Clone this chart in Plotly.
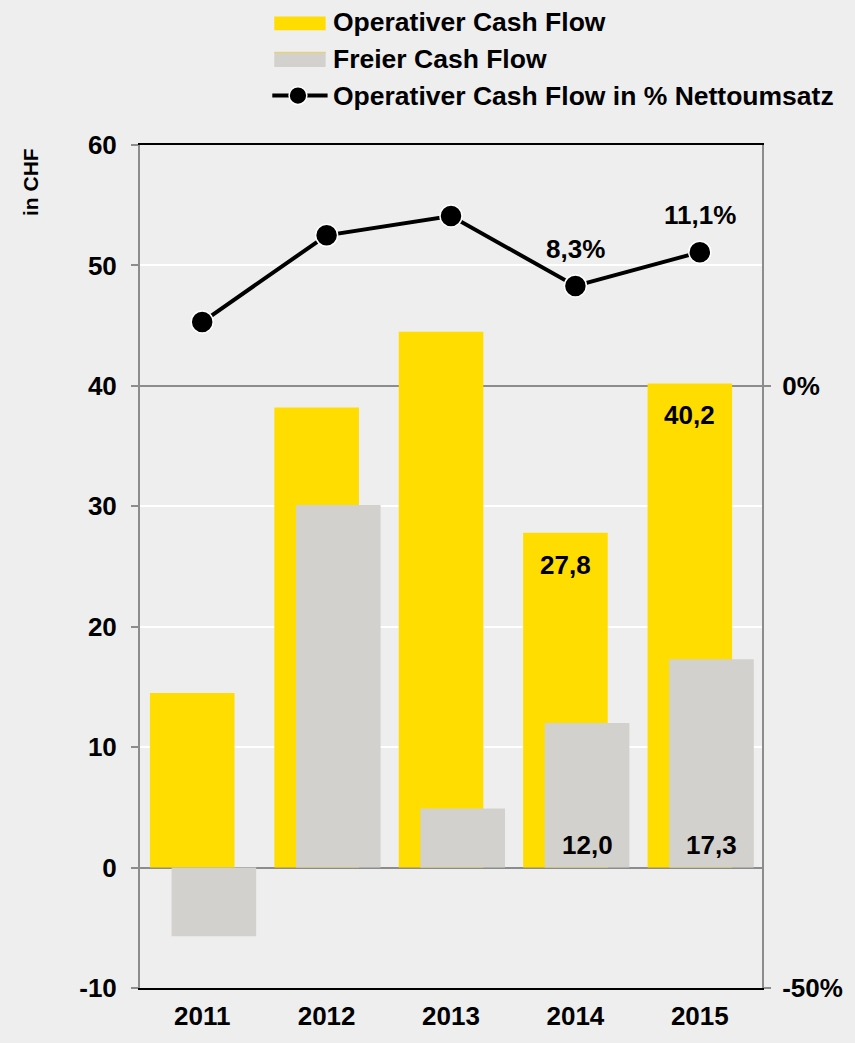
import plotly.graph_objects as go

# data
years = [2011, 2012, 2013, 2014, 2015]
operativer_cf = [14.5, 38.2, 44.5, 27.8, 40.2]      # CHF
freier_cf = [-5.7, 30.1, 4.9, 12.0, 17.3]           # CHF
ocf_pct_umsatz = [5.3, 12.5, 14.1, 8.3, 11.1]       # % Nettoumsatz
labelled_years = [2014, 2015]
series_names = ["Operativer Cash Flow", "Freier Cash Flow",
                "Operativer Cash Flow in % Nettoumsatz"]
y_ticks = [-10, 0, 10, 20, 30, 40, 50, 60]
y2_ticks = [-50, 0]

YELLOW = "#FFDD00"
GREY_BAR = "#D3D1CD"
BG = "#EEEEEE"
AXIS_GREY = "#8C8C8C"
FONT = "Arial, Liberation Sans, sans-serif"

BAR_W = 0.68
OFF_OCF = -0.42
OFF_FCF = -0.246

# page size and plot area in page pixels
W, H = 855, 1043
L, R, T, B = 140, 770, 145, 998


def px_x(p):
    return (p - L) / (R - L)


def px_y(p):
    return (B - p) / (B - T)


def de(v, pct=False):
    s = f"{v:.1f}".replace(".", ",")
    return s + "%" if pct else s


fig = go.Figure()

fig.add_trace(go.Bar(
    x=years, y=operativer_cf, width=BAR_W, offset=OFF_OCF,
    marker=dict(color=YELLOW, line=dict(width=0)),
    name=series_names[0], showlegend=False
))
fig.add_trace(go.Bar(
    x=years, y=freier_cf, width=BAR_W, offset=OFF_FCF,
    marker=dict(color=GREY_BAR, line=dict(width=0)),
    name=series_names[1], showlegend=False
))
fig.add_trace(go.Scatter(
    x=years, y=ocf_pct_umsatz, yaxis="y2", mode="lines+markers",
    line=dict(color="black", width=4),
    marker=dict(color="black", size=22, line=dict(color="white", width=1.5)),
    name=series_names[2], showlegend=False
))

label_font = dict(family=FONT, size=26, color="black", weight="bold")
annotations = []
for yr, ocf, fcf, pct in zip(years, operativer_cf, freier_cf, ocf_pct_umsatz):
    if yr not in labelled_years:
        continue
    annotations.append(dict(x=yr + OFF_OCF + BAR_W / 2, y=ocf, xref="x", yref="y",
                            text=de(ocf), showarrow=False, yanchor="top", yshift=-15,
                            font=label_font))
    annotations.append(dict(x=yr + OFF_FCF + BAR_W / 2, y=0, xref="x", yref="y",
                            text=de(fcf), showarrow=False, yanchor="bottom", yshift=6,
                            font=label_font))
    annotations.append(dict(x=yr, y=pct, xref="x", yref="y2",
                            text=de(pct, True), showarrow=False, yanchor="middle", yshift=37,
                            font=label_font))

# y axis title
annotations.append(dict(x=px_x(29), y=px_y(182), xref="paper", yref="paper",
                        text="in CHF", textangle=-90, showarrow=False,
                        xanchor="center", yanchor="middle",
                        font=dict(family=FONT, size=21, color="black", weight="bold")))

# legend (drawn by hand to get the wide swatches)
legend_font = dict(family=FONT, size=26.5, color="black", weight="bold")
shapes = [
    dict(type="rect", xref="paper", yref="paper", x0=px_x(276), x1=px_x(328),
         y0=px_y(29), y1=px_y(15), fillcolor=YELLOW, line=dict(width=0)),
    dict(type="rect", xref="paper", yref="paper", x0=px_x(276), x1=px_x(328),
         y0=px_y(66), y1=px_y(51), fillcolor=GREY_BAR, line=dict(width=0)),
    dict(type="line", xref="paper", yref="paper", x0=px_x(276), x1=px_x(328),
         y0=px_y(51.5), y1=px_y(51.5), line=dict(color="#E6D27A", width=1.5)),
    dict(type="line", xref="paper", yref="paper", x0=px_x(274), x1=px_x(330),
         y0=px_y(95), y1=px_y(95), line=dict(color="black", width=4)),
    dict(type="circle", xref="paper", yref="paper", x0=px_x(291), x1=px_x(309),
         y0=px_y(104), y1=px_y(86), fillcolor="black", line=dict(color="white", width=1.5)),
]
for name, cy in zip(series_names, [21, 58, 95]):
    annotations.append(dict(x=px_x(333), y=px_y(cy), xref="paper", yref="paper",
                            text=name, showarrow=False, xanchor="left", yanchor="middle",
                            font=legend_font))

tick_font = dict(family=FONT, size=26, color="black", weight="bold")

fig.update_layout(
    width=W, height=H,
    margin=dict(l=L, r=W - R, t=T, b=H - B),
    paper_bgcolor=BG, plot_bgcolor=BG,
    barmode="overlay",
    showlegend=False,
    font=dict(family=FONT, color="black"),
    annotations=annotations,
    shapes=shapes,
    xaxis=dict(
        range=[2010.5, 2015.5], tickvals=years, ticktext=[str(y) for y in years],
        tickfont=tick_font, showgrid=False, zeroline=False,
        showline=True, linecolor="black", linewidth=2, mirror=True, ticks="",
        ticklabelstandoff=4,
    ),
    yaxis=dict(
        range=[-10, 60], tickvals=y_ticks, ticktext=[str(v) for v in y_ticks],
        tickfont=tick_font,
        showgrid=True, gridcolor="white", gridwidth=2,
        zeroline=True, zerolinecolor=AXIS_GREY, zerolinewidth=2,
        showline=True, linecolor=AXIS_GREY, linewidth=2,
        ticks="outside", ticklen=7, tickcolor=AXIS_GREY, tickwidth=2,
        ticklabelstandoff=9,
    ),
    yaxis2=dict(
        overlaying="y", side="right", range=[-50, 20],
        tickvals=y2_ticks, ticktext=[f"{v}%" for v in y2_ticks], tickfont=tick_font,
        showgrid=False, zeroline=True, zerolinecolor=AXIS_GREY, zerolinewidth=2,
        showline=True, linecolor=AXIS_GREY, linewidth=2,
        ticks="outside", ticklen=7, tickcolor=AXIS_GREY, tickwidth=2,
        ticklabelstandoff=6,
    ),
)

# drop the default 8px page margin so the figure fills the window exactly
page_js = ("document.body.style.margin='0';"
           "document.body.style.overflow='hidden';"
           "document.documentElement.style.background='%s';" % BG)

fig.write_html("out.html", post_script=page_js, config={"displayModeBar": False})
